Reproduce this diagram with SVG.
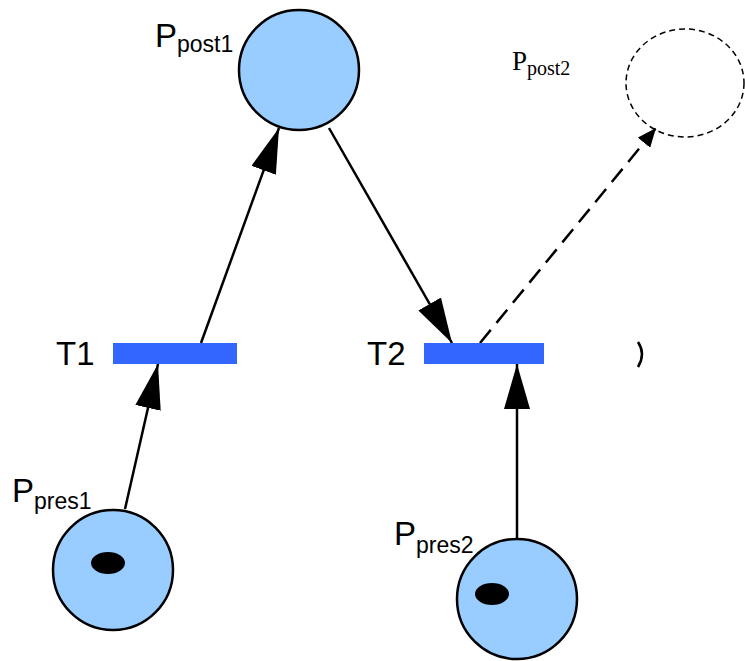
<svg xmlns="http://www.w3.org/2000/svg" width="745" height="661" viewBox="0 0 745 661">
<defs>
<style>
.place{fill:#99ccff;stroke:#000;stroke-width:2.5}
.token{fill:#000}
.trans{fill:#3366ff}
.lbl{font-family:"Liberation Sans",Arial,sans-serif;font-size:33px;fill:#000}
.sub{font-size:23px}
.tlbl{font-family:"Liberation Serif","Times New Roman",serif;font-size:27px;fill:#000}
.tsub{font-size:20px}
.arc{stroke:#000;stroke-width:2.5;fill:none}
</style>
<marker id="ah" markerUnits="userSpaceOnUse" markerWidth="46" markerHeight="26" refX="45" refY="13" orient="auto">
<path d="M0,0 L45,13 L0,26 z" fill="#000"/>
</marker>
<marker id="ahs" markerUnits="userSpaceOnUse" markerWidth="20" markerHeight="16" refX="19" refY="8" orient="auto">
<path d="M0,0 L19,8 L0,16 z" fill="#000"/>
</marker>
</defs>
<rect width="745" height="661" fill="#fff"/>
<g id="connectors">
<line class="arc" x1="201" y1="343" x2="279" y2="128" marker-end="url(#ah)"/>
<line class="arc" x1="329" y1="128" x2="452" y2="343" marker-end="url(#ah)"/>
<line class="arc" x1="125" y1="509" x2="158" y2="364" marker-end="url(#ah)"/>
<line class="arc" x1="517" y1="538" x2="517" y2="364" marker-end="url(#ah)"/>
<line class="arc" x1="480" y1="343" x2="656" y2="128" stroke-width="3" stroke-dasharray="17 9" marker-end="url(#ahs)"/>
</g>
<g id="Ppost1">
<circle class="place" cx="299" cy="70" r="60"/>
<text class="lbl" x="155" y="47">P<tspan class="sub" dy="5">post1</tspan></text>
</g>
<g id="Ppost2">
<ellipse cx="685" cy="83" rx="59" ry="54" fill="none" stroke="#000" stroke-width="1.5" stroke-dasharray="6 4"/>
<text class="tlbl" x="512" y="70">P<tspan class="tsub" dy="5">post2</tspan></text>
</g>
<g id="T1">
<rect class="trans" x="113" y="343" width="124" height="21"/>
<text class="lbl" x="56" y="365">T1</text>
</g>
<g id="T2">
<rect class="trans" x="424" y="343" width="120" height="21"/>
<text class="lbl" x="367" y="365">T2</text>
</g>
<g id="Ppres1">
<circle class="place" cx="113" cy="570" r="60"/>
<ellipse class="token" cx="108" cy="563" rx="17" ry="11"/>
<text class="lbl" x="12" y="502">P<tspan class="sub" dy="7">pres1</tspan></text>
</g>
<g id="Ppres2">
<circle class="place" cx="517" cy="599" r="60"/>
<ellipse class="token" cx="492" cy="594" rx="17" ry="11"/>
<text class="lbl" x="394" y="545">P<tspan class="sub" dy="8">pres2</tspan></text>
</g>
<path d="M638,342 Q646,354 638,367" fill="none" stroke="#000" stroke-width="2.5"/>
</svg>
